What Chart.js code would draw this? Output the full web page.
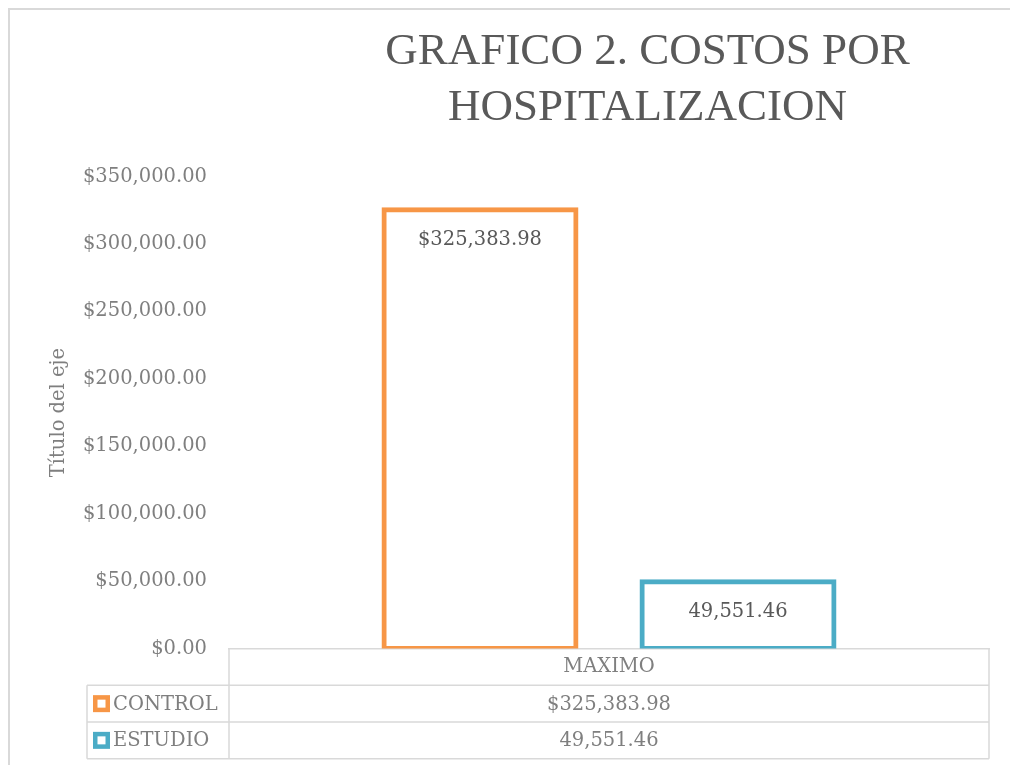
<!DOCTYPE html>
<html>
<head>
<meta charset="utf-8">
<script src="https://cdn.jsdelivr.net/npm/chart.js@4"></script>
<style>
  html, body { margin: 0; padding: 0; background: #ffffff; }
  #wrap { position: relative; width: 1010px; height: 765px; }
</style>
</head>
<body>
<div id="wrap"><canvas id="c" width="1010" height="765"></canvas></div>
<script>
// ---- data ----
const titleLines = ["GRAFICO 2. COSTOS POR", "HOSPITALIZACION"];
const categories = ["MAXIMO"];
const seriesNames = ["CONTROL", "ESTUDIO"];
const controlValues = [325383.98];
const estudioValues = [49551.46];
const controlLabels = ["$325,383.98"];
const estudioLabels = ["49,551.46"];
const yAxisTitle = "Título del eje";
const yMin = 0, yMax = 350000, yStep = 50000;

const colors = ["#F79646", "#4BACC6"];
const serif = "'DejaVu Serif', serif";
const gridGray = "#d9d9d9";
const valueLabels = [controlLabels, estudioLabels];

function fmtTick(v) {
  return "$" + Number(v).toLocaleString("en-US", { minimumFractionDigits: 2, maximumFractionDigits: 2 });
}

const PLOT_LEFT = 229, PLOT_RIGHT = 989;

const framePlugin = {
  id: "frame",
  beforeDraw(chart) {
    const ctx = chart.ctx;
    ctx.save();
    ctx.strokeStyle = gridGray;
    ctx.lineWidth = 2;
    ctx.beginPath();
    ctx.moveTo(9, 765); ctx.lineTo(9, 9); ctx.lineTo(1010, 9);
    ctx.stroke();
    ctx.restore();
  }
};

const titlePos = {
  id: "titlePos",
  afterLayout(chart) {
    if (chart.titleBlock) { chart.titleBlock.left = 285; chart.titleBlock.right = 1010; }
  }
};

const barLabels = {
  id: "barLabels",
  afterDatasetsDraw(chart) {
    const ctx = chart.ctx;
    ctx.save();
    ctx.font = "19.5px " + serif;
    ctx.fillStyle = "#595959";
    ctx.textAlign = "center";
    ctx.textBaseline = "middle";
    chart.data.datasets.forEach((ds, di) => {
      chart.getDatasetMeta(di).data.forEach((bar, i) => {
        ctx.fillText(valueLabels[di][i], bar.x, bar.y + 30);
      });
    });
    ctx.restore();
  }
};

const dataTable = {
  id: "dataTable",
  afterDraw(chart) {
    const ctx = chart.ctx;
    const area = chart.chartArea;
    const l = area.left, r = area.right, top = area.bottom;
    const rowH = 36.7;
    const r1 = top + rowH, r2 = top + 2 * rowH, r3 = top + 3 * rowH;
    const tableLeft = 87;
    ctx.save();
    ctx.strokeStyle = gridGray;
    ctx.lineWidth = 1.5;
    ctx.beginPath();
    ctx.moveTo(l, top); ctx.lineTo(l, r3);
    ctx.moveTo(r, top); ctx.lineTo(r, r3);
    ctx.moveTo(tableLeft, r1); ctx.lineTo(tableLeft, r3);
    [r1, r2, r3].forEach(y => { ctx.moveTo(tableLeft, y); ctx.lineTo(r, y); });
    ctx.stroke();

    const rows = [r1, r2];
    const cx = chart.scales.x.getPixelForValue(0);
    ctx.font = "19.5px " + serif;
    ctx.textBaseline = "middle";
    rows.forEach((y0, i) => {
      const cy = y0 + rowH / 2;
      ctx.fillStyle = colors[i];
      ctx.fillRect(93, cy - 8.5, 17, 17);
      ctx.fillStyle = "#ffffff";
      ctx.fillRect(97.5, cy - 4, 8, 8);
      ctx.fillStyle = "#7f7f7f";
      ctx.textAlign = "left";
      ctx.fillText(seriesNames[i], 113, cy + 1);
      ctx.textAlign = "center";
      ctx.fillText(valueLabels[i][0], cx, cy + 1);
    });
    ctx.restore();
  }
};

new Chart(document.getElementById("c"), {
  type: "bar",
  data: {
    labels: categories,
    datasets: [
      { label: seriesNames[0], data: controlValues, backgroundColor: "#ffffff", borderColor: colors[0], borderWidth: 5, borderSkipped: false, inflateAmount: 2.5 },
      { label: seriesNames[1], data: estudioValues, backgroundColor: "#ffffff", borderColor: colors[1], borderWidth: 5, borderSkipped: false, inflateAmount: 2.5 }
    ]
  },
  options: {
    responsive: false,
    animation: false,
    devicePixelRatio: 1,
    categoryPercentage: 0.679,
    barPercentage: 0.744,
    layout: { padding: { left: 47, right: 1010 - PLOT_RIGHT, top: 0, bottom: 79 } },
    plugins: {
      legend: { display: false },
      tooltip: { enabled: false },
      title: {
        display: true,
        text: titleLines,
        color: "#595959",
        font: { family: "'Liberation Serif', serif", size: 45, weight: "normal", lineHeight: 1.25 },
        padding: { top: 24, bottom: 40 }
      }
    },
    scales: {
      x: {
        grid: { display: false, drawTicks: false },
        border: { display: true, color: gridGray, width: 1.5 },
        ticks: { color: "#7f7f7f", font: { family: serif, size: 19.5 }, padding: 7 }
      },
      y: {
        min: yMin, max: yMax,
        afterFit(scale) { scale.width = PLOT_LEFT - 47; },
        grid: { display: false, drawTicks: false },
        border: { display: false },
        ticks: { stepSize: yStep, color: "#7f7f7f", font: { family: serif, size: 19.5 }, padding: 22, callback: fmtTick },
        title: { display: true, text: yAxisTitle, color: "#7f7f7f", font: { family: serif, size: 19.5 }, padding: 0 }
      }
    }
  },
  plugins: [framePlugin, titlePos, barLabels, dataTable]
});
</script>
</body>
</html>
